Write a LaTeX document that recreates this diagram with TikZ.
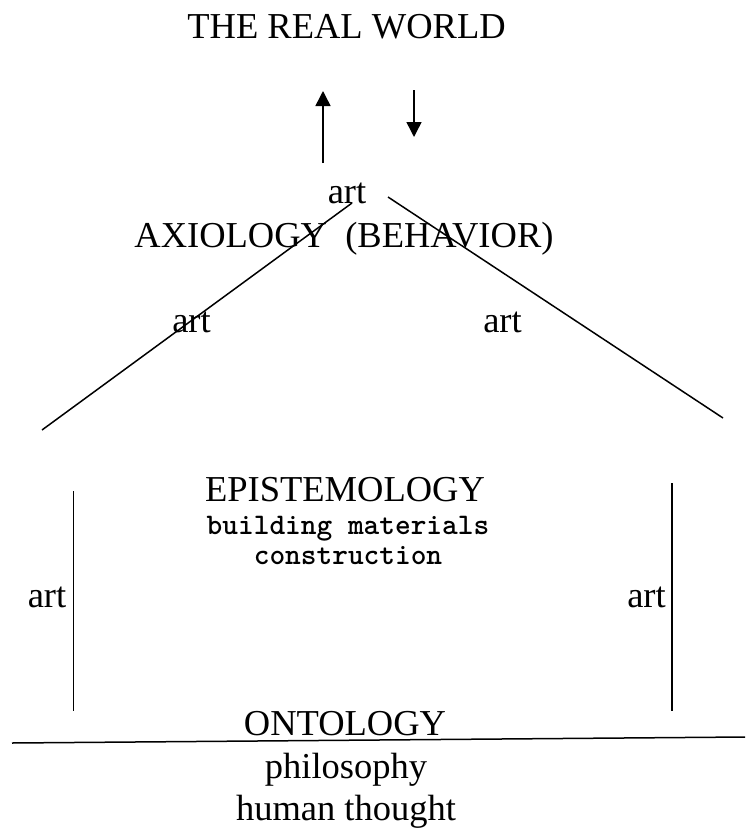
\documentclass[tikz,border=0pt]{standalone}
\usepackage{fontspec}
\setmainfont{Liberation Serif}
\usetikzlibrary{arrows.meta}
\begin{document}
\begin{tikzpicture}[x=1pt,y=-1pt,
  bigtext/.style={inner sep=0pt, anchor=base, font=\fontsize{36.5}{40}\selectfont},
  codetext/.style={inner sep=0pt, anchor=base, font=\ttfamily\bfseries\fontsize{29.9}{32}\selectfont},
  rule/.style={line width=1.5pt},
  flow/.style={rule, -{Triangle[length=15pt,width=15pt]}}]
\useasboundingbox (0,0) rectangle (747,830);

% headings and labels
\node[bigtext] (world) at (346.5,38) {THE REAL WORLD};
\node[bigtext] (artTop) at (347,203) {art};
\node[bigtext] (axiology) at (344,247) {AXIOLOGY\ \ (BEHAVIOR)};
\node[bigtext] (artRoofL) at (191.5,332) {art};
\node[bigtext] (artRoofR) at (502.5,332) {art};
\node[bigtext] (epist) at (345,501) {EPISTEMOLOGY};
\node[codetext] (materials) at (348,534) {building materials};
\node[codetext] (construction) at (348,564) {construction};
\node[bigtext] (artWallL) at (47,607) {art};
\node[bigtext] (artWallR) at (646.5,607) {art};
\node[bigtext] (ontology) at (345,735) {ONTOLOGY};
\node[bigtext] (philosophy) at (346,778) {philosophy};
\node[bigtext] (thought) at (346,820) {human thought};

% end points of the house outline
\coordinate (upFrom) at (323,163);
\coordinate (upTo) at (323,91);
\coordinate (downFrom) at (414,90);
\coordinate (downTo) at (414,137);
\coordinate (roofLlow) at (42,430);
\coordinate (roofLtop) at (352,203);
\coordinate (roofRtop) at (388,197);
\coordinate (roofRlow) at (723,418);
\coordinate (wallLtop) at (73.5,491);
\coordinate (wallLbot) at (73.5,711);
\coordinate (wallRtop) at (672,483);
\coordinate (wallRbot) at (672,711);
\coordinate (groundL) at (12,743);
\coordinate (groundR) at (745,737);

% exchange with the real world
\draw[flow] (upFrom) -- (upTo);
\draw[flow] (downFrom) -- (downTo);

% roof, walls and foundation
\draw[rule] (roofLlow) -- (roofLtop);
\draw[rule] (roofRtop) -- (roofRlow);
\draw[rule] (wallLtop) -- (wallLbot);
\draw[rule] (wallRtop) -- (wallRbot);
\draw[rule] (groundL) -- (groundR);
\end{tikzpicture}
\end{document}
